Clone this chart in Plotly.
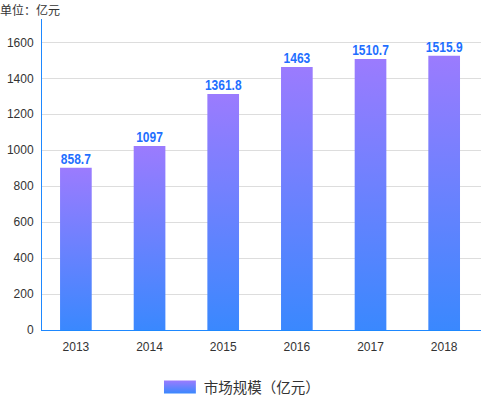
import plotly.graph_objects as go

categories = ["2013", "2014", "2015", "2016", "2017", "2018"]
bar_values = [903, 1024, 1313, 1463, 1507, 1526]
label_texts = ["858.7", "1097", "1361.8", "1463", "1510.7", "1515.9"]
series_name = "市场规模（亿元）"

bar_w = 0.43
top_color = "#9B7BFE"
bottom_color = "#3A88FE"

fig = go.Figure()
for i, (c, v) in enumerate(zip(categories, bar_values)):
    x0, x1 = i - bar_w / 2, i + bar_w / 2
    fig.add_trace(go.Scatter(
        x=[x0, x1, x1, x0, x0], y=[0, 0, v, v, 0],
        mode="lines", fill="toself", line=dict(width=0, color=bottom_color),
        fillgradient=dict(type="vertical",
                          colorscale=[[0, bottom_color], [1, top_color]]),
        name=series_name, legendgroup="s", showlegend=(i == 0),
        hoverinfo="skip",
    ))

fig.add_trace(go.Scatter(
    x=list(range(len(categories))), y=bar_values, mode="text",
    text=label_texts, textposition="top center",
    textfont=dict(family="Liberation Sans, Arial, sans-serif",
                  size=15, color="#1F6FFF", weight="bold"),
    showlegend=False, hoverinfo="skip", cliponaxis=False,
))

W, H = 482, 395
l, r, t, b = 42, 1, 19, 64.7

fig.update_layout(
    width=W, height=H,
    margin=dict(l=l, r=r, t=t, b=b, pad=0, autoexpand=False),
    paper_bgcolor="white", plot_bgcolor="white",
    font=dict(family="Noto Sans CJK SC, Noto Sans, sans-serif", size=12, color="#333"),
    title=dict(text="单位：亿元", x=0, xanchor="left", xref="container",
               y=1 - 11 / H, yanchor="middle", yref="container",
               font=dict(size=12, color="#333")),
    xaxis=dict(range=[-0.46, 5.5], tickmode="array",
               tickvals=list(range(len(categories))), ticktext=categories,
               showgrid=False, zeroline=False, showline=True,
               linecolor="#1E88FF", linewidth=1, ticks="", ticklabelstandoff=6,
               tickfont=dict(family="Liberation Sans, Arial, sans-serif", size=12, color="#333"),
               fixedrange=True, automargin=False),
    yaxis=dict(range=[0, 1730], tickmode="array",
               tickvals=[0, 200, 400, 600, 800, 1000, 1200, 1400, 1600],
               showgrid=True, gridcolor="#DDDDDD", gridwidth=1,
               zeroline=False, showline=True, linecolor="#1E88FF", linewidth=1,
               ticks="", ticklabelstandoff=5,
               tickfont=dict(family="Liberation Sans, Arial, sans-serif", size=12, color="#333"),
               fixedrange=True, automargin=False),
    legend=dict(orientation="h", xref="container", x=0.507, xanchor="center",
                yref="container", y=1 - 387 / H, yanchor="middle",
                font=dict(size=14.5, color="#333"), itemwidth=30),
    showlegend=True,
)

post = """
document.body.style.margin='0';
var gd=document.getElementById('{plot_id}');
gd.querySelectorAll('.textpoint text').forEach(function(t){
  t.style.transformBox='fill-box';
  t.style.transformOrigin='center';
  t.style.transform='scaleX(0.8)';
});
gd.querySelectorAll('.legendfill path').forEach(function(p){
  p.setAttribute('d','M0,-6.5h32v13h-32z');
});
"""

fig.write_html("out.html", post_script=post, config={"displayModeBar": False})
